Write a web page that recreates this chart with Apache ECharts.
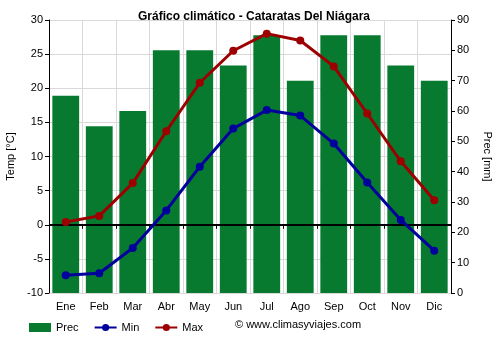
<!DOCTYPE html>
<html><head><meta charset="utf-8">
<script src="https://cdn.jsdelivr.net/npm/echarts@6/dist/echarts.min.js"></script>
<style>html,body{margin:0;padding:0;background:#fff}#c{width:500px;height:350px}</style>
</head><body><div id="c"></div>
<script>
const months = ['Ene','Feb','Mar','Abr','May','Jun','Jul','Ago','Sep','Oct','Nov','Dic'];
const prec = [65,55,60,80,80,75,85,70,85,85,75,70];
const tmin = [-7.4,-7.1,-3.4,2.1,8.5,14.1,16.8,16.0,11.9,6.2,0.7,-3.8];
const tmax = [0.4,1.3,6.1,13.7,20.8,25.5,28.0,27.0,23.2,16.3,9.3,3.6];
const tempTicks = [-10,30,5];
const precTicks = [0,90,10];

const font = 'Arial, "Liberation Sans", sans-serif';
const chart = echarts.init(document.getElementById('c'), null, {renderer:'canvas'});
chart.setOption({
  animation:false,
  backgroundColor:'#fff',
  textStyle:{fontFamily:font},
  title:{text:'Gráfico climático - Cataratas Del Niágara',left:249,textAlign:'center',top:6,
    textStyle:{fontSize:12,fontWeight:'bold',color:'#000',fontFamily:font}},
  grid:{left:49,right:49,top:20,bottom:57,containLabel:false,outerBoundsMode:'none'},
  legend:{left:24,top:317,itemGap:15,itemWidth:22,itemHeight:9,
    textStyle:{fontSize:11,color:'#000',fontFamily:font},
    data:[{name:'Prec',icon:'rect'},{name:'Min'},{name:'Max'}]},
  graphic:[{type:'text',left:235,top:319,style:{text:'© www.climasyviajes.com',fontSize:11,fill:'#000',fontFamily:font}}],
  xAxis:{type:'category',data:months,boundaryGap:true,
    axisLine:{lineStyle:{color:'#000',width:1}},
    axisTick:{show:true,alignWithLabel:false,length:4,lineStyle:{color:'#000'}},
    axisLabel:{color:'#000',fontSize:11,margin:8,fontFamily:font},
    splitLine:{show:true,lineStyle:{color:'#d9d9d9',width:1}}},
  yAxis:[
    {type:'value',min:tempTicks[0],max:tempTicks[1],interval:tempTicks[2],position:'left',
     name:'Temp [°C]',nameLocation:'middle',nameGap:33,nameTextStyle:{color:'#000',fontSize:11,fontFamily:font},
     axisLine:{show:true,lineStyle:{color:'#000'}},axisTick:{show:true,length:4,lineStyle:{color:'#000'}},
     axisLabel:{color:'#000',fontSize:11,margin:6,fontFamily:font},
     splitLine:{show:true,lineStyle:{color:'#d9d9d9',width:1}}},
    {type:'value',min:precTicks[0],max:precTicks[1],interval:precTicks[2],position:'right',
     name:'Prec [mm]',nameLocation:'middle',nameGap:31,nameRotate:-90,nameTextStyle:{color:'#000',fontSize:11,fontFamily:font},
     axisLine:{show:true,lineStyle:{color:'#000'}},axisTick:{show:true,length:4,lineStyle:{color:'#000'}},
     axisLabel:{color:'#000',fontSize:11,margin:6,fontFamily:font},
     splitLine:{show:false}}
  ],
  series:[
    {name:'Prec',type:'bar',yAxisIndex:1,data:prec,barCategoryGap:'20%',
     itemStyle:{color:'#077a30'},z:1},
    {name:'Min',type:'line',yAxisIndex:0,data:tmin,symbol:'circle',symbolSize:8,
     lineStyle:{color:'#00009c',width:3},itemStyle:{color:'#00009c'},z:3,
     markLine:{silent:true,symbol:'none',label:{show:false},lineStyle:{color:'#000',width:2,type:'solid'},data:[{yAxis:0}],z:2}},
    {name:'Max',type:'line',yAxisIndex:0,data:tmax,symbol:'circle',symbolSize:8,
     lineStyle:{color:'#9c0000',width:3},itemStyle:{color:'#9c0000'},z:4}
  ]
});
</script></body></html>
